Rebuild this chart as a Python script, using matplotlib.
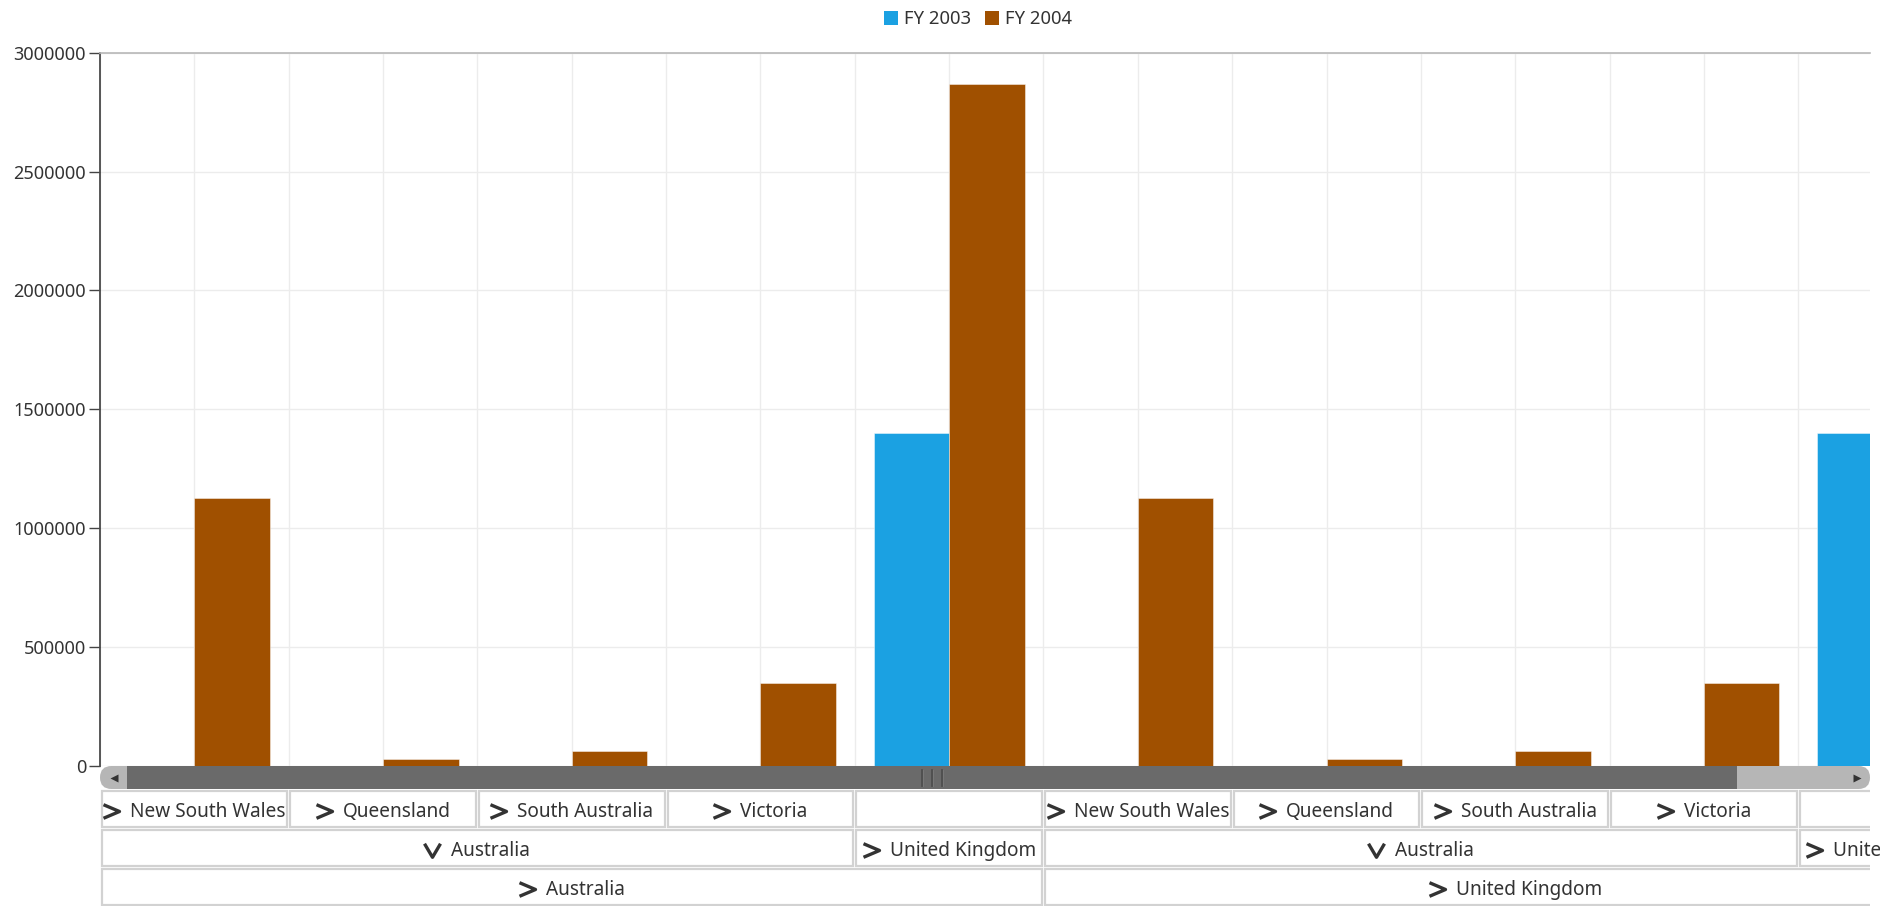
import matplotlib
matplotlib.use('Agg')
import matplotlib.pyplot as plt
from matplotlib.patches import Rectangle, FancyBboxPatch, Patch
from matplotlib.path import Path
from matplotlib.transforms import Bbox, TransformedBbox
import numpy as np

plt.rcParams['font.family'] = ['Noto Sans', 'DejaVu Sans']

# ---------------- data ----------------
categories = ["New South Wales", "Queensland", "South Australia", "Victoria", "",
              "New South Wales", "Queensland", "South Australia", "Victoria", ""]
fy2003 = [0, 0, 0, 0, 1400000, 0, 0, 0, 0, 1400000]
fy2004 = [1125000, 29500, 62000, 347000, 2870000,
          1125000, 29500, 62000, 347000, 2870000]
series_names = ["FY 2003", "FY 2004"]
series_colors = ["#1ba1e2", "#a05000"]

level2_labels = ["Australia", "United Kingdom", "Australia", "United Kingdom"]
level2_spans = [4, 1, 4, 1]
level2_expanded = [True, False, True, False]
level3_labels = ["Australia", "United Kingdom"]
level3_spans = [5, 5]
level3_expanded = [False, False]

y_ticks = [0, 500000, 1000000, 1500000, 2000000, 2500000, 3000000]
y_tick_labels = [str(v) for v in y_ticks]
visible_categories = 9.38

# ---------------- layout ----------------
W, H = 1880, 916
fig = plt.figure(figsize=(W / 100, H / 100), dpi=100)
fig.patch.set_facecolor('white')


def box(l, t, r, b):
    return [l / W, 1 - b / H, (r - l) / W, (b - t) / H]


PL, PR, PT, PB = 100, 1870, 52.7, 765.7
ax = fig.add_axes(box(PL, PT, PR, PB))
x = np.arange(len(categories))
bw = 0.4
ax.bar(x - bw / 2, fy2003, bw, color=series_colors[0], edgecolor=(1, 1, 1, 0.45),
       linewidth=0.7, zorder=3, label=series_names[0])
ax.bar(x + bw / 2, fy2004, bw, color=series_colors[1], edgecolor=(1, 1, 1, 0.45),
       linewidth=0.7, zorder=3, label=series_names[1])
ax.set_xticks(np.arange(-0.5, len(categories), 0.5))
ax.set_yticks(y_ticks)
ax.set_yticklabels(y_tick_labels, fontsize=13, color='#333333')
ax.set_xlim(-0.5, -0.5 + visible_categories)
ax.set_ylim(0, 3000000)
ax.tick_params(axis='x', length=0, labelbottom=False)
ax.tick_params(axis='y', length=8, width=1, color='#444444', pad=2)
ax.grid(True, color='#ececec', linewidth=1.0, zorder=0)
ax.set_axisbelow(True)
for s in ['right', 'bottom']:
    ax.spines[s].set_visible(False)
ax.spines['top'].set_color('#b8b8b8')
ax.spines['top'].set_linewidth(1.2)
ax.spines['left'].set_color('#4a4a4a')
ax.spines['left'].set_linewidth(1.3)

# legend
handles = [Patch(facecolor=c, edgecolor='none') for c in series_colors]
fig.legend(handles, series_names, loc='center', bbox_to_anchor=(978 / W, 1 - 19.5 / H),
           ncol=2, frameon=False, fontsize=13.3, handlelength=0.75, handleheight=0.75,
           handletextpad=0.3, columnspacing=0.8, labelcolor='#333333')

# ---------------- scrollbar ----------------
SB_T, SB_B = 766, 789
sb = fig.add_axes(box(PL, SB_T, PR, SB_B))
sb_w = PR - PL
sb_h = SB_B - SB_T
sb.set_xlim(0, sb_w)
sb.set_ylim(0, sb_h)
sb.axis('off')
sb.add_patch(FancyBboxPatch((0, 0), sb_w, sb_h,
                            boxstyle=f"round,pad=0,rounding_size={sb_h / 2}",
                            facecolor='#b6b6b6', edgecolor='none'))
btn = 27
track = sb_w - 2 * btn
thumb = track * visible_categories / len(categories)
sb.add_patch(Rectangle((btn, 0), thumb, sb_h, facecolor='#6a6a6a', edgecolor='none'))
cx = btn + thumb / 2
for d in (-10, 0, 10):
    sb.plot([cx + d, cx + d], [3, sb_h - 4], color='#4e4e4e', lw=1.3)
    sb.plot([cx + d + 1.5, cx + d + 1.5], [3, sb_h - 4], color='#7a7a7a', lw=0.6)
sb.plot([btn / 2], [sb_h / 2], marker='<', ms=6, color='#333333', mec='none')
sb.plot([sb_w - btn / 2], [sb_h / 2], marker='>', ms=6, color='#333333', mec='none')

# ---------------- multi-level axis labels ----------------
LT, LB = 789, 906
lab = fig.add_axes(box(PL, LT, PR, LB))
lab.set_xlim(ax.get_xlim())
lab.set_ylim(3, 0)
lab.axis('off')
cat_px = (PR - PL) / visible_categories
row_px = (LB - LT) / 3

chev_right = Path([(-1, 0.85), (1, 0), (-1, -0.85)],
                  [Path.MOVETO, Path.LINETO, Path.LINETO])
chev_down = Path([(-1, 0.85), (0, -0.85), (1, 0.85)],
                 [Path.MOVETO, Path.LINETO, Path.LINETO])

level1_groups = [(lbl, 1, False) for lbl in categories]
level2_groups = list(zip(level2_labels, level2_spans, level2_expanded))
level3_groups = list(zip(level3_labels, level3_spans, level3_expanded))

renderer = fig.canvas.get_renderer()
dx = 1.5 / cat_px
dy = 1.5 / row_px
chev_w, gap, pad = 16, 11, 3
label_fs = 13.7

for r, groups in enumerate([level1_groups, level2_groups, level3_groups]):
    start = 0
    for lbl, span, expanded in groups:
        x0 = start - 0.5
        x1 = x0 + span
        lab.add_patch(Rectangle((x0 + dx, r + dy), span - 2 * dx, 1 - 2 * dy,
                                facecolor='white', edgecolor='#d2d2d2', lw=1.6))
        if lbl:
            t = lab.text(0, r + 0.585, lbl, ha='left', va='center', fontsize=label_fs,
                         color='#333333', fontweight='semibold')
            tw = t.get_window_extent(renderer).width
            content = chev_w + gap + tw
            inner = span * cat_px - 2 * pad
            if content <= inner:
                sx = x0 + (span * cat_px - content) / 2 / cat_px
            else:
                sx = x0 + (pad + 2) / cat_px
            t.set_x(sx + (chev_w + gap) / cat_px)
            t.set_clip_box(TransformedBbox(Bbox([[x0 + dx, r], [x1 - 2 * dx, r + 1]]),
                                           lab.transData))
            t.set_clip_on(True)
            lab.plot([sx + chev_w / 2 / cat_px], [r + 0.56],
                     marker=chev_down if expanded else chev_right,
                     ms=11.5, mfc='none', mec='#333333', mew=2.4, ls='none')
        start += span

fig.savefig('out.png', dpi=100, facecolor='white')
